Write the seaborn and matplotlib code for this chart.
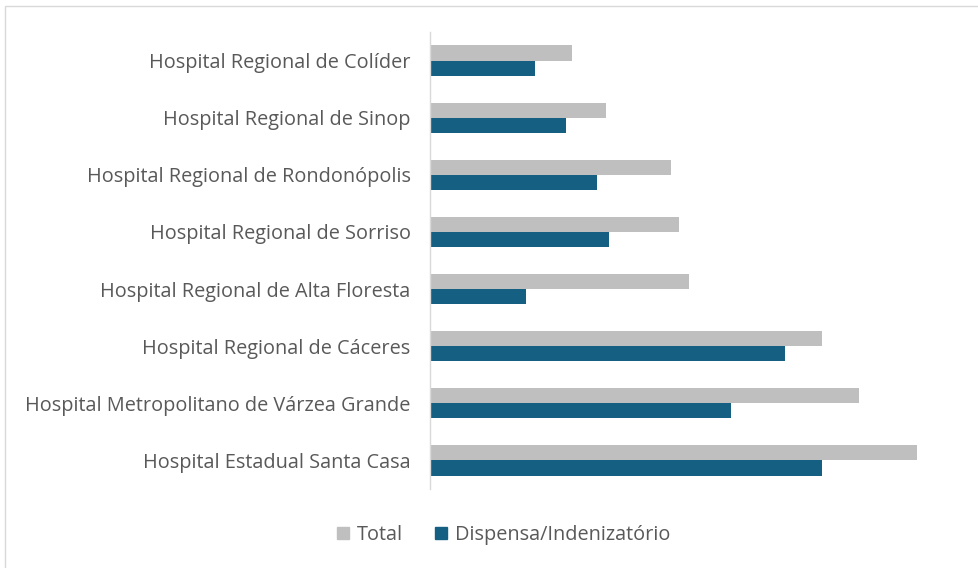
import matplotlib
matplotlib.use('Agg')
import matplotlib.pyplot as plt
import seaborn as sns
import pandas as pd
from matplotlib.patches import Patch

# dados (escala aproximada)
hospitais = [
    'Hospital Regional de Colíder',
    'Hospital Regional de Sinop',
    'Hospital Regional de Rondonópolis',
    'Hospital Regional de Sorriso',
    'Hospital Regional de Alta Floresta',
    'Hospital Regional de Cáceres',
    'Hospital Metropolitano de Várzea Grande',
    'Hospital Estadual Santa Casa',
]
total = [142, 176, 241, 249, 259, 392, 429, 487]
dispensa = [105, 136, 167, 179, 96, 355, 301, 392]
series = ['Total', 'Dispensa/Indenizatório']

df = pd.DataFrame({
    'hospital': hospitais * 2,
    'valor': total + dispensa,
    'serie': [series[0]] * len(hospitais) + [series[1]] * len(hospitais),
})

cores = ['#BFBFBF', '#156082']
texto = '#595959'

sns.set_style('white')
plt.rcParams['font.family'] = ['Open Sans', 'DejaVu Sans']

fig = plt.figure(figsize=(9.79, 5.68), dpi=100)
ax = fig.add_axes([430 / 979, 1 - 489 / 568, 530 / 979, 457 / 568])

sns.barplot(data=df, y='hospital', x='valor', hue='serie', palette=cores,
            orient='h', width=0.53, dodge=True, ax=ax, legend=False,
            saturation=1, linewidth=0)

ax.set_xlim(0, 530)
ax.set_xlabel('')
ax.set_ylabel('')
ax.set_xticks([])
ax.tick_params(axis='y', length=0, labelsize=14.3, labelcolor=texto, pad=14)
for s in ['top', 'right', 'bottom']:
    ax.spines[s].set_visible(False)
ax.spines['left'].set_color('#D9D9D9')
ax.spines['left'].set_linewidth(1)

handles = [Patch(color=c) for c in cores]
fig.legend(handles, series, loc='center', bbox_to_anchor=(504 / 979, 1 - 535 / 568),
           ncol=2, frameon=False, fontsize=14.3, labelcolor=texto,
           handlelength=0.6, handleheight=0.6, handletextpad=0.4, columnspacing=1.6)

# borda do gráfico
fig.patches.append(plt.Rectangle((0.005, -0.01), 1.1, 1.0, transform=fig.transFigure,
                                 fill=False, edgecolor='#D9D9D9', linewidth=1))

fig.savefig('out.png', dpi=100)
